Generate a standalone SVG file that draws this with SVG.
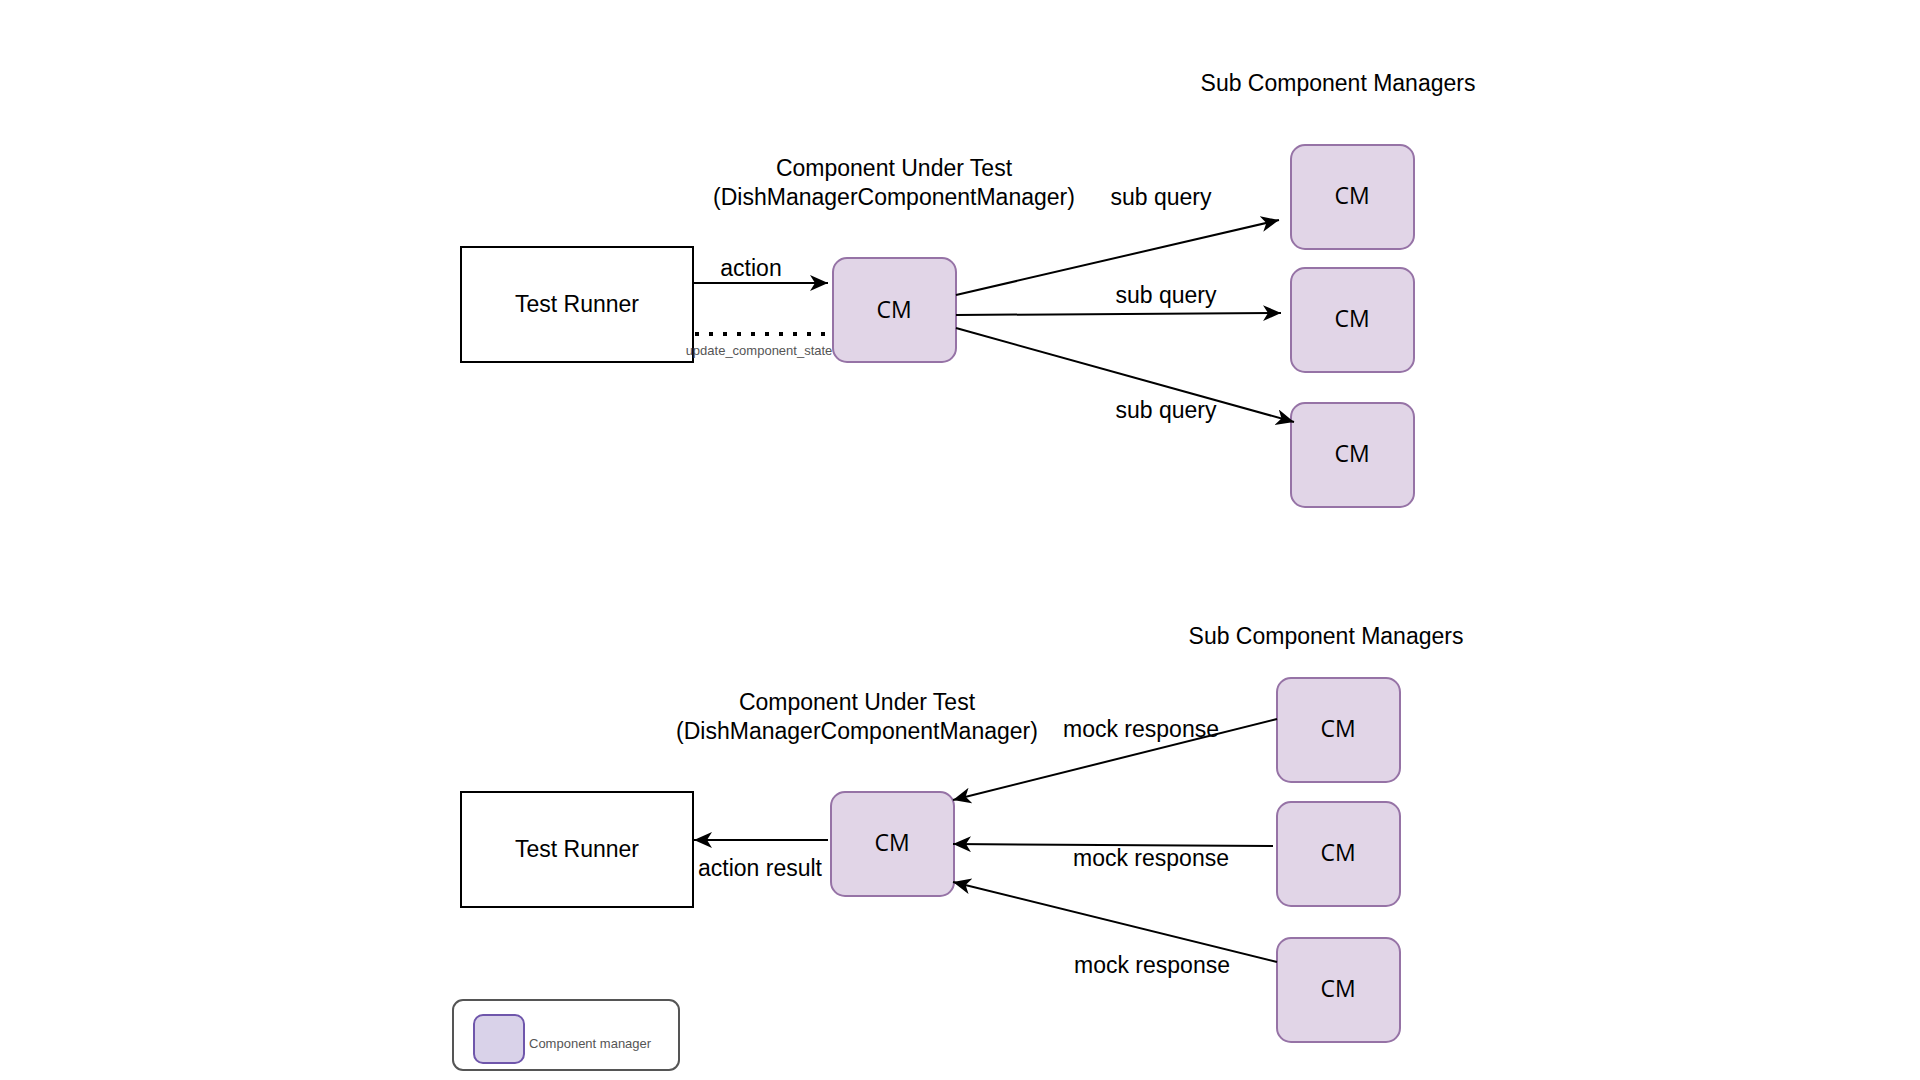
<svg xmlns="http://www.w3.org/2000/svg" width="1920" height="1080" viewBox="0 0 1920 1080">
  <style>
    .lbl { font-family: "Liberation Sans", Arial, sans-serif; font-size: 23px; fill: #000; }
    .cm-text { font-family: "Open Sans", "Noto Sans", sans-serif; font-size: 23px; fill: #000; }
    .runner { fill: #fff; stroke: #000; stroke-width: 2; }
    .cm { fill: #e1d5e7; stroke: #9673a6; stroke-width: 2; }
    .edge { stroke: #000; stroke-width: 2; fill: none; marker-end: url(#arrow); }
    .small { font-family: "Liberation Sans", Arial, sans-serif; font-size: 13px; fill: #555; }
  </style>
  <defs>
    <marker id="arrow" markerUnits="userSpaceOnUse" markerWidth="20" markerHeight="18" refX="18" refY="8" orient="auto">
      <path d="M0,0 L18,8 L0,16 L5,8 z" fill="#000"/>
    </marker>
  </defs>
  <rect width="1920" height="1080" fill="#fff"/>

  <!-- Titles -->
  <text class="lbl" x="1338" y="83" text-anchor="middle" dominant-baseline="central">Sub Component Managers</text>
  <text class="lbl" x="894" y="168" text-anchor="middle" dominant-baseline="central">Component Under Test</text>
  <text class="lbl" x="894" y="197" text-anchor="middle" dominant-baseline="central">(DishManagerComponentManager)</text>

  <text class="lbl" x="1326" y="636" text-anchor="middle" dominant-baseline="central">Sub Component Managers</text>
  <text class="lbl" x="857" y="702" text-anchor="middle" dominant-baseline="central">Component Under Test</text>
  <text class="lbl" x="857" y="731" text-anchor="middle" dominant-baseline="central">(DishManagerComponentManager)</text>

  <!-- Upper scenario: requests -->
  <g id="runner-top">
    <rect class="runner" x="461" y="247" width="232" height="115"/>
    <text class="lbl" x="577" y="304" text-anchor="middle" dominant-baseline="central">Test Runner</text>
  </g>
  <g id="cm-top">
    <rect class="cm" x="833" y="258" width="123" height="104" rx="14"/>
    <text class="cm-text" x="894" y="309" text-anchor="middle" dominant-baseline="central">CM</text>
  </g>
  <g id="sub-top-1">
    <rect class="cm" x="1291" y="145" width="123" height="104" rx="14"/>
    <text class="cm-text" x="1352" y="195" text-anchor="middle" dominant-baseline="central">CM</text>
  </g>
  <g id="sub-top-2">
    <rect class="cm" x="1291" y="268" width="123" height="104" rx="14"/>
    <text class="cm-text" x="1352" y="318" text-anchor="middle" dominant-baseline="central">CM</text>
  </g>
  <g id="sub-top-3">
    <rect class="cm" x="1291" y="403" width="123" height="104" rx="14"/>
    <text class="cm-text" x="1352" y="453" text-anchor="middle" dominant-baseline="central">CM</text>
  </g>

  <!-- Lower scenario: responses -->
  <g id="runner-bottom">
    <rect class="runner" x="461" y="792" width="232" height="115"/>
    <text class="lbl" x="577" y="849" text-anchor="middle" dominant-baseline="central">Test Runner</text>
  </g>
  <g id="cm-bottom">
    <rect class="cm" x="831" y="792" width="123" height="104" rx="14"/>
    <text class="cm-text" x="892" y="842" text-anchor="middle" dominant-baseline="central">CM</text>
  </g>
  <g id="sub-bottom-1">
    <rect class="cm" x="1277" y="678" width="123" height="104" rx="14"/>
    <text class="cm-text" x="1338" y="728" text-anchor="middle" dominant-baseline="central">CM</text>
  </g>
  <g id="sub-bottom-2">
    <rect class="cm" x="1277" y="802" width="123" height="104" rx="14"/>
    <text class="cm-text" x="1338" y="852" text-anchor="middle" dominant-baseline="central">CM</text>
  </g>
  <g id="sub-bottom-3">
    <rect class="cm" x="1277" y="938" width="123" height="104" rx="14"/>
    <text class="cm-text" x="1338" y="988" text-anchor="middle" dominant-baseline="central">CM</text>
  </g>

  <!-- Connectors, drawn above the nodes so their labels stay visible -->
  <g id="connectors">
    <line class="edge" x1="693" y1="283" x2="828" y2="283"/>
    <line x1="695" y1="334" x2="833" y2="334" stroke="#000" stroke-width="4" stroke-dasharray="4 10"/>
    <line class="edge" x1="956" y1="295" x2="1279" y2="220"/>
    <line class="edge" x1="956" y1="315" x2="1281" y2="313"/>
    <line class="edge" x1="956" y1="328" x2="1294" y2="422"/>

    <line class="edge" x1="828" y1="840" x2="694" y2="840"/>
    <line class="edge" x1="1277" y1="719" x2="953" y2="800"/>
    <line class="edge" x1="1273" y1="846" x2="953" y2="844"/>
    <line class="edge" x1="1277" y1="962" x2="953" y2="882"/>

    <text class="lbl" x="751" y="268" text-anchor="middle" dominant-baseline="central">action</text>
    <text class="small" x="759" y="350" text-anchor="middle" dominant-baseline="central">update_component_state</text>
    <text class="lbl" x="1161" y="197" text-anchor="middle" dominant-baseline="central">sub query</text>
    <text class="lbl" x="1166" y="295" text-anchor="middle" dominant-baseline="central">sub query</text>
    <text class="lbl" x="1166" y="410" text-anchor="middle" dominant-baseline="central">sub query</text>

    <text class="lbl" x="760" y="868" text-anchor="middle" dominant-baseline="central">action result</text>
    <text class="lbl" x="1141" y="729" text-anchor="middle" dominant-baseline="central">mock response</text>
    <text class="lbl" x="1151" y="858" text-anchor="middle" dominant-baseline="central">mock response</text>
    <text class="lbl" x="1152" y="965" text-anchor="middle" dominant-baseline="central">mock response</text>
  </g>

  <!-- Legend -->
  <g id="legend">
    <rect x="453" y="1000" width="226" height="70" rx="10" fill="#fff" stroke="#555" stroke-width="2"/>
    <rect x="474" y="1015" width="50" height="48" rx="9" fill="#d9d2e9" stroke="#6f56ab" stroke-width="2"/>
    <text class="small" x="529" y="1043" dominant-baseline="central">Component manager</text>
  </g>
</svg>
